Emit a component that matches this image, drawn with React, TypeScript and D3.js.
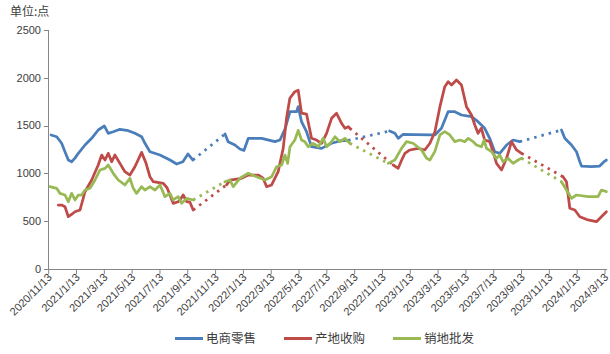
import React from "react";
import * as d3 from "d3";

// x = months after 2020/11/13, y = 点
const retailSegs: [number, number][][] = [
  [[0.17,1402],[0.57,1384],[0.93,1315],[1.17,1227],[1.41,1140],[1.65,1122],[1.89,1160],[2.13,1210],[2.61,1297],[3.09,1367],[3.56,1454],[4.0,1496],[4.28,1419],[4.64,1436],[5.12,1461],[5.72,1447],[6.2,1419],[6.68,1384],[6.92,1315],[7.28,1227],[8.0,1192],[8.72,1140],[9.2,1098],[9.65,1122],[10.01,1203],[10.37,1140]],
  [[12.68,1412],[12.9,1332],[13.39,1297],[13.75,1255],[14.04,1240],[14.35,1367],[15.31,1367],[16.27,1332],[16.63,1349],[16.99,1464],[17.35,1645],[17.82,1645],[17.94,1698],[18.18,1541],[18.54,1436],[18.9,1279],[19.62,1262],[20.34,1315],[20.94,1339],[21.53,1345]],
  [[24.52,1443],[24.89,1419],[25.13,1367],[25.49,1409],[26.33,1405],[27.41,1402],[27.77,1402],[28.24,1472],[28.72,1645],[29.2,1645],[29.68,1611],[30.4,1593],[30.87,1541],[31.35,1472],[31.71,1367],[32.07,1227],[32.43,1210],[32.92,1297],[33.39,1349],[33.87,1332]],
  [[36.87,1454],[37.11,1367],[37.59,1297],[37.95,1227],[38.19,1122],[38.31,1077],[39.03,1070],[39.62,1077],[39.91,1120],[40.1,1140]],
];

const originSegs: [number, number][][] = [
  [[0.69,669],[0.93,669],[1.17,652],[1.41,547],[1.67,575],[1.89,599],[2.25,617],[2.61,808],[3.09,931],[3.56,1088],[3.81,1192],[4.05,1140],[4.28,1210],[4.53,1122],[4.76,1192],[5.12,1105],[5.48,1018],[5.84,983],[6.2,1070],[6.68,1220],[6.99,1110],[7.28,965],[7.52,913],[8.24,896],[8.51,850],[8.72,774],[8.95,687],[9.31,704],[9.44,722],[9.67,774],[9.92,704],[10.15,700],[10.39,617]],
  [[12.79,880],[13.03,930],[13.87,949],[14.35,983],[15.06,983],[15.42,949],[15.67,861],[16.03,879],[16.5,1018],[16.86,1262],[17.1,1576],[17.34,1786],[17.7,1855],[17.94,1870],[18.18,1630],[18.54,1620],[18.9,1367],[19.26,1349],[19.62,1315],[19.98,1419],[20.34,1576],[20.7,1629],[21.06,1524],[21.3,1472],[21.55,1489],[21.65,1472]],
  [[24.77,1088],[25.13,1053],[25.38,1140],[25.61,1210],[25.97,1245],[26.56,1262],[27.04,1245],[27.41,1315],[27.77,1436],[28.13,1698],[28.48,1907],[28.72,1959],[28.97,1925],[29.32,1977],[29.68,1925],[30.04,1698],[30.4,1611],[30.64,1506],[30.87,1419],[31.11,1472],[31.35,1349],[31.71,1332],[31.95,1227],[32.2,1105],[32.56,1036],[32.92,1158],[33.28,1332],[33.64,1245],[34.0,1210]],
  [[36.98,965],[37.23,913],[37.47,635],[37.83,617],[38.19,547],[38.78,513],[39.39,495],[39.74,547],[40.1,599]],
];

const wholesaleSegs: [number, number][][] = [
  [[0.09,861],[0.57,844],[0.81,791],[1.17,774],[1.41,704],[1.65,791],[1.89,722],[2.13,774],[2.37,774],[2.61,826],[2.97,844],[3.33,931],[3.69,1036],[4.05,1053],[4.28,1088],[4.64,1001],[5.0,931],[5.48,879],[5.84,949],[6.08,844],[6.32,791],[6.68,861],[6.92,826],[7.28,861],[7.64,826],[8.0,879],[8.36,757],[8.72,791],[8.95,722],[9.31,757],[9.56,687],[9.92,739],[10.39,722]],
  [[12.67,913],[13.03,931],[13.27,861],[13.75,949],[14.35,1001],[14.95,965],[15.55,931],[16.03,965],[16.39,1070],[16.75,1088],[16.99,1192],[17.18,1105],[17.35,1279],[17.7,1349],[17.94,1450],[18.18,1349],[18.42,1332],[18.66,1279],[19.02,1315],[19.38,1279],[19.74,1367],[19.98,1279],[20.34,1332],[20.58,1384],[20.94,1332],[21.3,1367],[21.65,1315]],
  [[24.41,1105],[24.89,1140],[25.37,1262],[25.73,1332],[26.2,1315],[26.81,1245],[27.17,1158],[27.41,1140],[27.77,1230],[28.13,1402],[28.48,1436],[28.84,1402],[29.2,1332],[29.56,1349],[29.92,1332],[30.16,1367],[30.52,1332],[30.76,1297],[31.12,1279],[31.31,1349],[31.48,1262],[31.84,1227],[32.2,1158],[32.43,1192],[32.67,1122],[33.03,1158],[33.39,1105],[33.75,1140],[34.0,1158]],
  [[36.87,913],[37.23,826],[37.59,739],[37.95,774],[38.78,757],[39.5,757],[39.74,826],[40.1,809]],
];

const xTickLabels = [
  "2020/11/13","2021/1/13","2021/3/13","2021/5/13","2021/7/13","2021/9/13","2021/11/13",
  "2022/1/13","2022/3/13","2022/5/13","2022/7/13","2022/9/13","2022/11/13",
  "2023/1/13","2023/3/13","2023/5/13","2023/7/13","2023/9/13","2023/11/13",
  "2024/1/13","2024/3/13",
];
const yTicks = [0, 500, 1000, 1500, 2000, 2500];

const seriesNames = ["电商零售", "产地收购", "销地批发"];
const seriesColors = ["#4a7ebb", "#be4b48", "#98b954"];
const seriesData = [retailSegs, originSegs, wholesaleSegs];

export default function App() {
  const W = 610, H = 354;
  const x = d3.scaleLinear().domain([0, 40]).range([48.7, 605]);
  const y = d3.scaleLinear().domain([0, 2500]).range([269, 30]);
  const line = d3.line<[number, number]>().x(d => x(d[0])).y(d => y(d[1])).curve(d3.curveLinear);
  const numFont = "'Liberation Sans', Arial, sans-serif";
  const cjkFont = "'Noto Sans CJK SC', sans-serif";
  const axisColor = "#868686";
  const textColor = "#404040";
  const legendX = [175, 284, 393];

  return (
    <div style={{ position: "fixed", left: 0, top: 0 }}>
      <svg width={W} height={H} style={{ display: "block", background: "#fff" }}>
        <text x={10} y={16} fontFamily={cjkFont} fontSize={12} fill={textColor}>单位:点</text>
        {/* y axis */}
        <line x1={48.5} x2={48.5} y1={30} y2={269.5} stroke={axisColor} strokeWidth={1} />
        {yTicks.map(t => (
          <g key={t}>
            <line x1={44} x2={48.5} y1={Math.round(y(t)) + 0.5} y2={Math.round(y(t)) + 0.5} stroke={axisColor} />
            <text x={41} y={y(t)} dy="0.35em" textAnchor="end" fontFamily={numFont} fontSize={11} fill={textColor}>{t}</text>
          </g>
        ))}
        {/* x axis */}
        <line x1={48} x2={607} y1={269.5} y2={269.5} stroke={axisColor} strokeWidth={1} />
        {xTickLabels.map((lab, i) => {
          const px = x(i * 2);
          return (
            <g key={lab}>
              <line x1={px} x2={px} y1={269.5} y2={274} stroke={axisColor} />
              <text transform={`translate(${px + 4},${278}) rotate(-45)`} textAnchor="end" fontFamily={numFont} fontSize={11} fill={textColor}>{lab}</text>
            </g>
          );
        })}
        {/* series */}
        {seriesData.map((segs, si) => (
          <g key={si}>
            {segs.slice(0, -1).map((seg, k) => {
              const a = seg[seg.length - 1];
              const b = segs[k + 1][0];
              return (
                <path key={"d" + k} d={line([a, b]) || ""} fill="none" stroke={seriesColors[si]} strokeWidth={2.75} strokeDasharray="2.5 5" />
              );
            })}
            {segs.map((seg, k) => (
              <path key={"s" + k} d={line(seg) || ""} fill="none" stroke={seriesColors[si]} strokeWidth={2.75} strokeLinejoin="round" strokeLinecap="round" />
            ))}
          </g>
        ))}
        {/* legend */}
        {seriesNames.map((n, i) => (
          <g key={n}>
            <line x1={legendX[i]} x2={legendX[i] + 28} y1={338.5} y2={338.5} stroke={seriesColors[i]} strokeWidth={3} />
            <text x={legendX[i] + 31} y={338.5} dy="0.36em" fontFamily={cjkFont} fontSize={12.5} fill={textColor}>{n}</text>
          </g>
        ))}
      </svg>
    </div>
  );
}
